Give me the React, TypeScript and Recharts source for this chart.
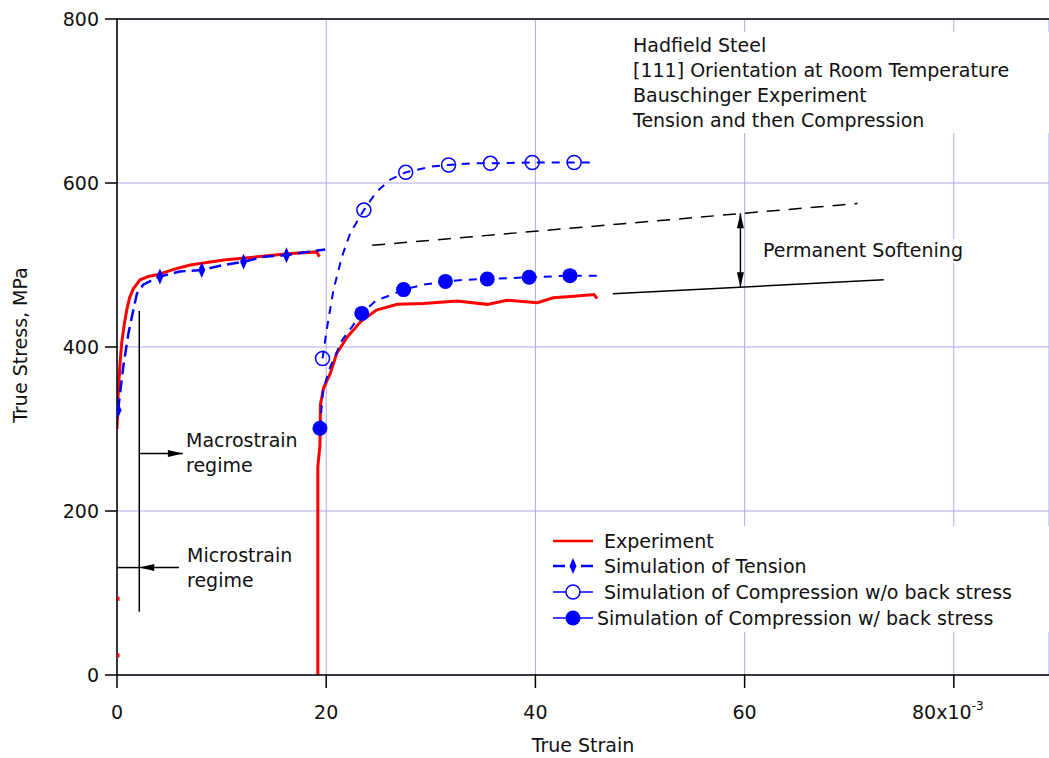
import React from "react";
import {
  ComposedChart,
  Line,
  Scatter,
  XAxis,
  YAxis,
  CartesianGrid,
  ReferenceLine,
  Legend,
} from "recharts";

type Pt = [number, number];

// strain in units of 10^-3, stress in MPa
const strainTicks = [0, 20, 40, 60, 80];
const stressTicks = [0, 200, 400, 600, 800];

const experimentTension: Pt[] = [
  [0, 300], [0.1, 340], [0.3, 382], [0.45, 405], [0.7, 428], [0.93, 445],
  [1.2, 460], [1.56, 471], [2.2, 482], [3.0, 486], [3.8, 488], [5.5, 495],
  [7.0, 500], [10.2, 506], [13.4, 510], [16.6, 514], [19.1, 516], [19.35, 510],
];
const experimentStray: Pt[] = [[0, 93], [0, 24]];
const experimentCompression: Pt[] = [
  [19.2, 0], [19.2, 254], [19.4, 280], [19.45, 330], [19.75, 350], [20.4, 368],
  [21.0, 392], [22.0, 412], [23.3, 431], [24.8, 445], [26.8, 452], [29.3, 453],
  [32.5, 456], [35.4, 452], [37.3, 457], [40.2, 454], [41.7, 460], [43.7, 462],
  [45.6, 464], [45.9, 459],
];

const tensionSim: Pt[] = [
  [0.1, 323], [0.6, 376], [1.1, 417], [1.56, 445], [1.9, 465], [2.5, 476],
  [4.1, 486], [6.0, 492], [8.1, 494], [10.2, 500], [12.1, 504], [14, 510],
  [16.2, 512], [18.2, 516], [19.9, 519],
];
const tensionMarkers: Pt[] = [[0.1, 323], [4.1, 486], [8.1, 494], [12.1, 504], [16.2, 512]];

const compNoBack: Pt[] = [
  [19.65, 386], [20.05, 421], [20.7, 470], [21.5, 510], [22.3, 539], [23.6, 567],
  [24.8, 589], [26.1, 604], [27.6, 613], [30, 620], [31.7, 622], [33.8, 624],
  [35.7, 624], [39.7, 625], [43.7, 625], [45.4, 625],
];
const compNoBackMarkers: Pt[] = [
  [19.65, 386], [23.6, 567], [27.6, 613], [31.7, 622], [35.7, 624], [39.7, 625], [43.7, 625],
];

const compBack: Pt[] = [
  [19.4, 301], [19.7, 348], [20.4, 376], [21.5, 408], [23.4, 441], [24.8, 457],
  [26.1, 463], [27.4, 470], [29.3, 476], [31.4, 480], [33.4, 482], [35.4, 483],
  [39.4, 485], [43.3, 487], [46.5, 487],
];
const compBackMarkers: Pt[] = [
  [19.4, 301], [23.4, 441], [27.4, 470], [31.4, 480], [35.4, 483], [39.4, 485], [43.3, 487],
];

// annotation lines
const upperTrend: Pt[] = [[24.4, 524], [70.8, 575]];
const lowerTrend: Pt[] = [[47.4, 465], [73.3, 482]];
const softeningArrow: Pt[] = [[59.6, 563], [59.6, 473]];
const regimeDivider: Pt[] = [[2.13, 444], [2.13, 77]];
const macroArrow: Pt[] = [[2.13, 270], [6.3, 270]];
const microArrow: Pt[] = [[5.93, 131], [2.13, 131]];
const microStub: Pt[] = [[0, 131], [2.13, 131]];

const titleLines = [
  "Hadfield Steel",
  "[111] Orientation at Room Temperature",
  "Bauschinger Experiment",
  "Tension and then Compression",
];
const legendNames = [
  "Experiment",
  "Simulation of Tension",
  "Simulation of Compression w/o back stress",
  "Simulation of Compression w/ back stress",
];

const FONT = '"DejaVu Sans", Verdana, sans-serif';
const INK = "#111";
const RED = "#ff0000";
const BLUE = "#0000ff";
const GRID = "#aaaaf4";

const toXY = (pts: Pt[]) => pts.map(([x, y]) => ({ x, y }));
const seg = (pts: Pt[]) => pts.map(([x, y]) => ({ x, y }));

const StrainTick = (props: any) => {
  const { x, y, payload } = props;
  const isLast = payload.value === 80;
  return (
    <text x={isLast ? x - 6 : x} y={y + 31} textAnchor="middle" fontSize={19} fontFamily={FONT} fill={INK}>
      {isLast ? (
        <>
          80x10
          <tspan dy={-9} fontSize={12}>-3</tspan>
        </>
      ) : (
        payload.value
      )}
    </text>
  );
};

const StressTick = (props: any) => {
  const { x, y, payload } = props;
  return (
    <text x={x - 6} y={y} textAnchor="end" dominantBaseline="central" fontSize={19} fontFamily={FONT} fill={INK}>
      {payload.value}
    </text>
  );
};

const diamond = (p: any) => (
  <polygon
    points={`${p.cx},${p.cy - 8} ${p.cx + 3.5},${p.cy} ${p.cx},${p.cy + 8} ${p.cx - 3.5},${p.cy}`}
    fill={BLUE}
  />
);
const openCircle = (p: any) => (
  <circle cx={p.cx} cy={p.cy} r={7} fill="none" stroke={BLUE} strokeWidth={1.5} />
);
const filledCircle = (p: any) => <circle cx={p.cx} cy={p.cy} r={7.5} fill={BLUE} />;
const redDot = (p: any) => <rect x={p.cx - 2.5} y={p.cy - 2} width={5} height={4} fill={RED} />;

const arrowHead = (tx: number, ty: number, fx: number, fy: number) => {
  const a = Math.atan2(ty - fy, tx - fx);
  const L = 15;
  const W = 3.5;
  const bx = tx - L * Math.cos(a);
  const by = ty - L * Math.sin(a);
  const nx = -Math.sin(a) * W;
  const ny = Math.cos(a) * W;
  return <polygon points={`${tx},${ty} ${bx + nx},${by + ny} ${bx - nx},${by - ny}`} fill="#000" />;
};

const arrowShape = (both: boolean) => (p: any) => {
  const { x1, y1, x2, y2 } = p;
  return (
    <g>
      <line x1={x1} y1={y1} x2={x2} y2={y2} stroke="#000" strokeWidth={1.5} />
      {arrowHead(x2, y2, x1, y1)}
      {both && arrowHead(x1, y1, x2, y2)}
    </g>
  );
};

const LegendContent = () => {
  const rows = [15, 40, 66, 92];
  return (
    <svg width={504} height={106} style={{ display: "block" }}>
      <line x1={8} y1={rows[0]} x2={48} y2={rows[0]} stroke={RED} strokeWidth={2.5} />
      <line x1={8} y1={rows[1]} x2={20} y2={rows[1]} stroke={BLUE} strokeWidth={2.5} />
      <line x1={36} y1={rows[1]} x2={48} y2={rows[1]} stroke={BLUE} strokeWidth={2.5} />
      {diamond({ cx: 28, cy: rows[1] })}
      <line x1={8} y1={rows[2]} x2={48} y2={rows[2]} stroke={BLUE} strokeWidth={1.5} />
      <circle cx={28} cy={rows[2]} r={7} fill="#fff" stroke={BLUE} strokeWidth={1.5} />
      <line x1={8} y1={rows[3]} x2={48} y2={rows[3]} stroke={BLUE} strokeWidth={1.5} />
      <circle cx={28} cy={rows[3]} r={7.5} fill={BLUE} />
      {legendNames.map((name, i) => (
        <text
          key={name}
          x={i === 3 ? 52 : 59}
          y={rows[i]}
          dominantBaseline="central"
          fontSize={19}
          fontFamily={FONT}
          fill={INK}
        >
          {name}
        </text>
      ))}
    </svg>
  );
};

export default function App() {
  return (
    <div style={{ position: "absolute", left: 0, top: 0, background: "#fff" }}>
      <ComposedChart width={1049} height={758} margin={{ top: 19, right: 0, bottom: 0, left: 0 }}>
        <CartesianGrid stroke={GRID} strokeWidth={1} />
        <rect x={622} y={32} width={427} height={101} fill="#fff" />
        <rect x={757} y={239} width={205} height={24} fill="#fff" />
        <XAxis
          type="number"
          dataKey="x"
          domain={[0, 89.1]}
          ticks={strainTicks}
          interval={0}
          height={83}
          tickSize={13}
          tickMargin={0}
          tick={<StrainTick />}
          axisLine={{ stroke: "#000", strokeWidth: 1.5 }}
          tickLine={{ stroke: "#000", strokeWidth: 1.5 }}
          allowDataOverflow
        />
        <YAxis
          type="number"
          dataKey="y"
          domain={[0, 800]}
          ticks={stressTicks}
          interval={0}
          width={117}
          tickSize={12}
          tickMargin={0}
          tick={<StressTick />}
          axisLine={{ stroke: "#000", strokeWidth: 1.5 }}
          tickLine={{ stroke: "#000", strokeWidth: 1.5 }}
        />
        <ReferenceLine y={800} stroke="#000" strokeWidth={1.5} />

        <ReferenceLine segment={seg(upperTrend)} stroke="#000" strokeWidth={1.5} strokeDasharray="13 9" />
        <ReferenceLine segment={seg(lowerTrend)} stroke="#000" strokeWidth={1.5} />
        <ReferenceLine segment={seg(softeningArrow)} shape={arrowShape(true)} />
        <ReferenceLine segment={seg(regimeDivider)} stroke="#000" strokeWidth={1.5} />
        <ReferenceLine segment={seg(macroArrow)} shape={arrowShape(false)} />
        <ReferenceLine segment={seg(microArrow)} shape={arrowShape(false)} />
        <ReferenceLine segment={seg(microStub)} stroke="#000" strokeWidth={1.5} />

        <Line data={toXY(experimentTension)} dataKey="y" stroke={RED} strokeWidth={3} dot={false} isAnimationActive={false} legendType="none" />
        <Line data={toXY(experimentCompression)} dataKey="y" stroke={RED} strokeWidth={3} dot={false} isAnimationActive={false} legendType="none" />
        <Line data={toXY(tensionSim)} dataKey="y" stroke={BLUE} strokeWidth={2.5} strokeDasharray="12 6" dot={false} isAnimationActive={false} legendType="none" />
        <Line data={toXY(compNoBack)} dataKey="y" stroke={BLUE} strokeWidth={2} strokeDasharray="8 7" dot={false} isAnimationActive={false} legendType="none" />
        <Line data={toXY(compBack)} dataKey="y" stroke={BLUE} strokeWidth={2} strokeDasharray="8 7" dot={false} isAnimationActive={false} legendType="none" />

        <Scatter data={toXY(experimentStray)} dataKey="y" shape={redDot} isAnimationActive={false} legendType="none" />
        <Scatter data={toXY(tensionMarkers)} dataKey="y" shape={diamond} isAnimationActive={false} legendType="none" />
        <Scatter data={toXY(compNoBackMarkers)} dataKey="y" shape={openCircle} isAnimationActive={false} legendType="none" />
        <Scatter data={toXY(compBackMarkers)} dataKey="y" shape={filledCircle} isAnimationActive={false} legendType="none" />

        <Legend
          layout="vertical"
          align="center"
          verticalAlign="middle"
          content={<LegendContent />}
          wrapperStyle={{ left: 545, top: 526, width: 504, height: 106, background: "#fff" }}
        />

        <g fontFamily={FONT} fontSize={19} fill={INK}>
          {titleLines.map((t, i) => (
            <text key={t} x={633} y={45 + i * 25} dominantBaseline="central">
              {t}
            </text>
          ))}
          <text x={763} y={250} dominantBaseline="central">Permanent Softening</text>
          <text x={186} y={440} dominantBaseline="central">Macrostrain</text>
          <text x={186} y={465} dominantBaseline="central">regime</text>
          <text x={187} y={555} dominantBaseline="central">Microstrain</text>
          <text x={187} y={580} dominantBaseline="central">regime</text>
          <text x={583} y={745} textAnchor="middle" dominantBaseline="central">True Strain</text>
          <text x={20} y={345} textAnchor="middle" dominantBaseline="central" transform="rotate(-90 20 345)">
            True Stress, MPa
          </text>
        </g>
      </ComposedChart>
    </div>
  );
}
